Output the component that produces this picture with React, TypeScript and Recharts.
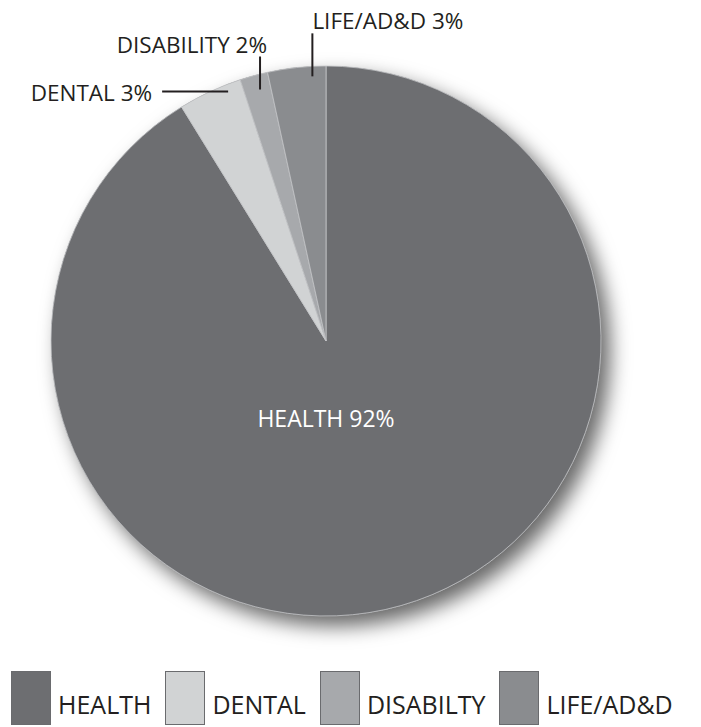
import { Cell, Legend, Pie, PieChart } from 'recharts';

const categories = ['HEALTH', 'DENTAL', 'DISABILITY', 'LIFE/AD&D'];
const legendNames = ['HEALTH', 'DENTAL', 'DISABILTY', 'LIFE/AD&D'];
const shares = [91.2, 3.75, 1.64, 3.41];
const percentLabels = ['92%', '3%', '2%', '3%'];
const sliceColors = ['#6d6e71', '#d1d3d4', '#a7a9ac', '#8a8c8f'];

const FONT = '"Open Sans", "DejaVu Sans", sans-serif';
const INK = '#231f20';
const RAD = Math.PI / 180;

// where each callout sits: fraction along the slice, how far inside the rim it starts,
// which way the leader runs and how the text hangs off it
const callouts: Record<string, { t: number; inset: number; dir: 'up' | 'left'; len: number; anchor: 'start' | 'end'; dx: number }> = {
  DENTAL: { t: 0.76, inset: 7, dir: 'left', len: 66, anchor: 'end', dx: -10 },
  DISABILITY: { t: 0.59, inset: 15, dir: 'up', len: 33, anchor: 'end', dx: 7 },
  'LIFE/AD&D': { t: 0.76, inset: 10, dir: 'up', len: 43, anchor: 'start', dx: 0 },
};

const pieData = categories.map((name, i) => ({
  name,
  value: shares[i],
  pct: percentLabels[i],
}));

const shadowData = [{ name: 'shadow', value: 100 }];

function SliceLabel(props: any) {
  const { cx, cy, outerRadius, startAngle, endAngle, index } = props;
  const d = pieData[index];
  if (!d) return null;
  const text = `${d.name} ${d.pct}`;
  const cfg = callouts[d.name];
  if (!cfg) {
    return (
      <text
        x={cx}
        y={cy + outerRadius * 0.28}
        fill="#ffffff"
        fontSize={23}
        fontFamily={FONT}
        textAnchor="middle"
        dominantBaseline="central"
      >
        {text}
      </text>
    );
  }
  const angle = startAngle + cfg.t * (endAngle - startAngle);
  const r = outerRadius - cfg.inset;
  const x1 = cx + r * Math.cos(-angle * RAD);
  const y1 = cy + r * Math.sin(-angle * RAD);
  let x2 = x1;
  let y2 = y1;
  let tx = x1;
  let ty = y1;
  if (cfg.dir === 'up') {
    y2 = y1 - cfg.len;
    tx = x1 + cfg.dx;
    ty = y2 - 4;
  } else {
    x2 = x1 - cfg.len;
    tx = x2 + cfg.dx;
    ty = y1 + 9;
  }
  return (
    <g>
      <line x1={x1} y1={y1} x2={x2} y2={y2} stroke={INK} strokeWidth={2} />
      <text x={tx} y={ty} fill={INK} fontSize={22.5} fontFamily={FONT} textAnchor={cfg.anchor}>
        {text}
      </text>
    </g>
  );
}

function SquareLegend() {
  return (
    <div style={{ display: 'flex', alignItems: 'flex-end', fontFamily: FONT }}>
      {legendNames.map((name, i) => (
        <div key={name} style={{ display: 'flex', alignItems: 'flex-end', marginRight: 14 }}>
          <div
            style={{
              width: 38,
              height: 52,
              background: sliceColors[i],
              border: '1px solid #6a6b6e',
            }}
          />
          <span style={{ marginLeft: 7, fontSize: 25, lineHeight: '26px', color: INK, marginBottom: 8 }}>
            {name}
          </span>
        </div>
      ))}
    </div>
  );
}

export default function App() {
  return (
    <div style={{ position: 'relative', width: 701, height: 727, margin: '-8px 0 0 -8px', background: '#fff' }}>
      <svg width={0} height={0} style={{ position: 'absolute' }}>
        <defs>
          <filter id="pieShadow" x="-20%" y="-20%" width="150%" height="150%">
            <feDropShadow dx={9} dy={10} stdDeviation={10} floodColor="#000" floodOpacity={0.6} />
          </filter>
        </defs>
      </svg>
      <PieChart width={701} height={727} margin={{ top: 0, right: 0, bottom: 0, left: 0 }}>
        <Pie
          data={shadowData}
          dataKey="value"
          cx={326}
          cy={341}
          outerRadius={275}
          startAngle={90}
          endAngle={-270}
          stroke="none"
          isAnimationActive={false}
          legendType="none"
        >
          <Cell fill={sliceColors[0]} filter="url(#pieShadow)" />
        </Pie>
        <Pie
          data={pieData}
          dataKey="value"
          nameKey="name"
          cx={326}
          cy={341}
          outerRadius={275}
          startAngle={90}
          endAngle={-270}
          stroke="#c4c5c8"
          strokeWidth={0.8}
          label={SliceLabel}
          labelLine={false}
          isAnimationActive={false}
        >
          {pieData.map((d, i) => (
            <Cell key={d.name} fill={sliceColors[i]} />
          ))}
        </Pie>
        <Legend
          content={<SquareLegend />}
          wrapperStyle={{ position: 'absolute', left: 11, top: 671, width: 690, height: 56 }}
        />
      </PieChart>
    </div>
  );
}
